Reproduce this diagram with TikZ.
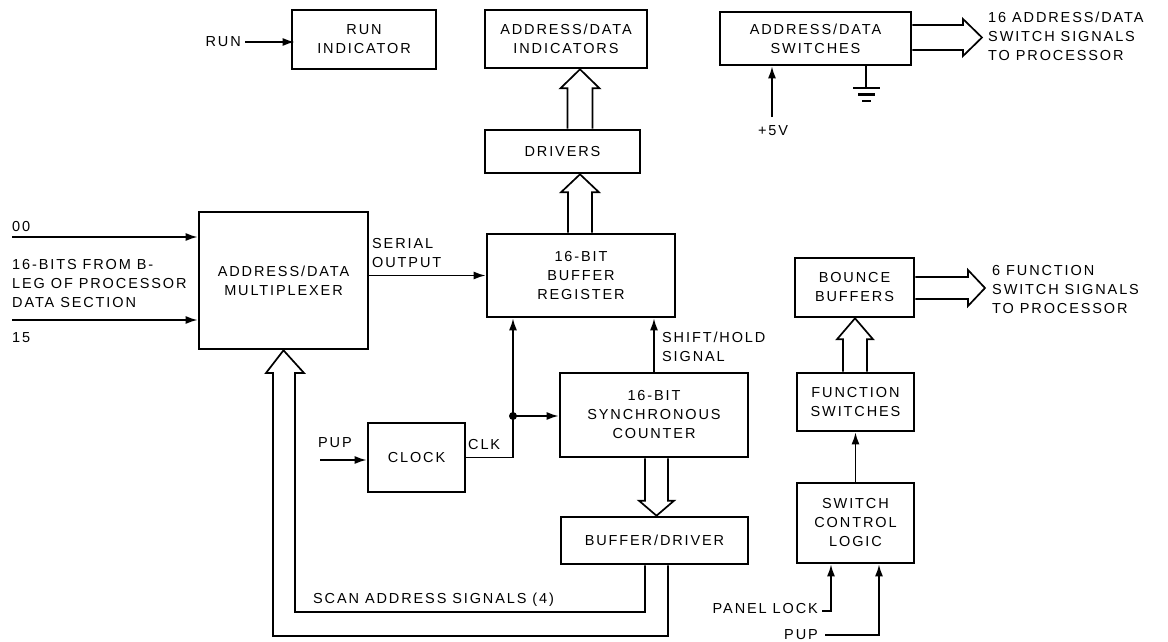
\documentclass[tikz,border=0pt]{standalone}
\usepackage{fontspec}
\setmainfont{Liberation Sans}[LetterSpace=13]
\usetikzlibrary{calc,arrows.meta}
\newcommand\dgfont{\fontsize{14.5}{19}\selectfont}
\tikzset{
 blk/.style={draw, line width=2.6pt, align=center, inner sep=0pt, font=\dgfont},
 lab/.style={align=left, inner sep=0pt, font=\dgfont},
 wire/.style={line width=1.8pt},
 arr/.style={wire, -{Latex[length=12pt,width=8pt]}},
 bus/.style={line width=1.7pt, line join=miter},
}
% vertical bus arrow pointing up: x, base point, tip point, shaft half, head half, head length
\newcommand\busup[6]{\draw[bus] (#1-#4,0 |- #2) -- ($(#1-#4,0 |- #3)+(0,#6)$) -- ($(#1-#5,0 |- #3)+(0,#6)$) -- (#1,0 |- #3) -- ($(#1+#5,0 |- #3)+(0,#6)$) -- ($(#1+#4,0 |- #3)+(0,#6)$) -- (#1+#4,0 |- #2);}
\newcommand\busdown[6]{\draw[bus] (#1-#4,0 |- #2) -- ($(#1-#4,0 |- #3)+(0,-#6)$) -- ($(#1-#5,0 |- #3)+(0,-#6)$) -- (#1,0 |- #3) -- ($(#1+#5,0 |- #3)+(0,-#6)$) -- ($(#1+#4,0 |- #3)+(0,-#6)$) -- (#1+#4,0 |- #2);}
% horizontal bus arrow pointing right: y, base point, tip coordinate, shaft half, head half, head length
\newcommand\busright[6]{\draw[bus] (#2 |- 0,#1-#4) -- ($(#3 |- 0,#1-#4)+(-#6,0)$) -- ($(#3 |- 0,#1-#5)+(-#6,0)$) -- (#3) -- ($(#3 |- 0,#1+#5)+(-#6,0)$) -- ($(#3 |- 0,#1+#4)+(-#6,0)$) -- (#2 |- 0,#1+#4);}
\begin{document}
\begin{tikzpicture}[x=1pt,y=-1pt]
\fill[white] (0,0) rectangle (1168,642);
\useasboundingbox (0,0) rectangle (1168,642);

% blocks
\node[blk, minimum width=144, minimum height=59] (run) at (364,39.5) {RUN\\INDICATOR};
\node[blk, minimum width=162, minimum height=58] (ind) at (566,39) {ADDRESS/DATA\\INDICATORS};
\node[blk, minimum width=155, minimum height=43] (drv) at (562.5,151.5) {DRIVERS};
\node[blk, minimum width=188, minimum height=83] (reg) at (581,275.5) {16-BIT\\BUFFER\\REGISTER};
\node[blk, minimum width=169, minimum height=137] (mux) at (283.5,280.5) {ADDRESS/DATA\\MULTIPLEXER};
\node[blk, minimum width=97, minimum height=69] (clk) at (416.5,457.5) {CLOCK};
\node[blk, minimum width=188, minimum height=84] (cnt) at (654,415) {16-BIT\\SYNCHRONOUS\\COUNTER};
\node[blk, minimum width=187, minimum height=47] (bd) at (654.5,540.5) {BUFFER/DRIVER};
\node[blk, minimum width=191, minimum height=53] (sw) at (815.5,38.5) {ADDRESS/DATA\\SWITCHES};
\node[blk, minimum width=119, minimum height=59] (bb) at (854.5,287.5) {BOUNCE\\BUFFERS};
\node[blk, minimum width=117, minimum height=58] (fs) at (855.5,402) {FUNCTION\\SWITCHES};
\node[blk, minimum width=117, minimum height=80] (scl) at (855.5,523) {SWITCH\\CONTROL\\LOGIC};

% labels
\node[lab, anchor=east] (runin) at (241,42) {RUN};
\node[lab, anchor=west] (l00) at (12,227) {00};
\node[lab, anchor=west] (lsrc) at (12,284) {16-BITS FROM B-\\LEG OF PROCESSOR\\DATA SECTION};
\node[lab, anchor=west] (l15) at (12,338) {15};
\node[lab, anchor=west] (lser) at (372,253) {SERIAL\\OUTPUT};
\node[lab, anchor=west] (lsh) at (662,347) {SHIFT/HOLD\\SIGNAL};
\node[lab, anchor=west] (lclk) at (468,445) {CLK};
\node[lab, anchor=west] (lpup) at (318,443) {PUP};
\node[lab, anchor=west] (lscan) at (313,600) {SCAN ADDRESS SIGNALS (4)};
\node[lab] (l5v) at (773,131) {+5V};
\node[lab, anchor=west] (lsw) at (988,36) {16 ADDRESS/DATA\\SWITCH SIGNALS\\TO PROCESSOR};
\node[lab, anchor=west] (lfn) at (992,290) {6 FUNCTION\\SWITCH SIGNALS\\TO PROCESSOR};
\node[lab, anchor=east] (lpl) at (818,609) {PANEL LOCK};
\node[lab, anchor=east] (lpup2) at (818,635) {PUP};

% simple connectors
\draw[arr] ([xshift=4]runin.east) -- ([xshift=4]runin.east -| run.west);
\coordinate (i0) at (12,237);
\draw[arr] (i0) -- (i0 -| mux.west);
\coordinate (i15) at (12,320);
\draw[arr] (i15) -- (i15 -| mux.west);
\draw[arr] (mux.east |- reg.west) -- (reg.west);
\draw[arr] (cnt.north) -- (cnt.north |- reg.south);
\coordinate (j) at (513,416);
\draw[wire] (clk.east) -- (clk.east -| j) -- (j);
\draw[arr] (j) -- (j |- reg.south);
\draw[arr] (j) -- (j -| cnt.west);
\fill (j) circle (4);
\coordinate (pc) at (320,460);
\draw[arr] (pc) -- (pc -| clk.west);
\coordinate (v5t) at (772,117);
\draw[arr] (v5t) -- (v5t |- sw.south);
\coordinate (g) at (866,88);
\draw[wire] (g |- sw.south) -- (g);
\draw[line width=2.2pt] (853,88) -- (880,88) (858,94.5) -- (875,94.5) (862,101) -- (871,101);
\draw[arr] (scl.north) -- (fs.south);
\coordinate (pl0) at (822,611);
\coordinate (pl1) at (831,611);
\draw[arr] (pl0) -- (pl1) -- (pl1 |- scl.south);
\coordinate (pp0) at (825,635);
\coordinate (pp1) at (879,635);
\draw[arr] (pp0) -- (pp1) -- (pp1 |- scl.south);

% bus arrows
\busup{580}{drv.north}{ind.south}{12.5}{19.5}{19}
\busup{580}{reg.north}{drv.south}{12}{19}{18}
\busdown{656.5}{cnt.south}{bd.north}{11.5}{17.5}{15}
\busup{855}{fs.north}{bb.south}{12}{18}{21}
\coordinate (swt) at (982,37.5);
\busright{37.5}{sw.east}{swt}{12.5}{18.5}{19}
\coordinate (bbt) at (985,288);
\busright{288}{bb.east}{bbt}{11}{18}{17}
\draw[bus] (bd.south -| 645,0) -- (645,612) -- (295,612) -- (295,373) -- (304,373) -- (mux.south) -- (266,373) -- (273,373) -- (273,636) -- (668,636) -- (bd.south -| 668,0);
\end{tikzpicture}
\end{document}
